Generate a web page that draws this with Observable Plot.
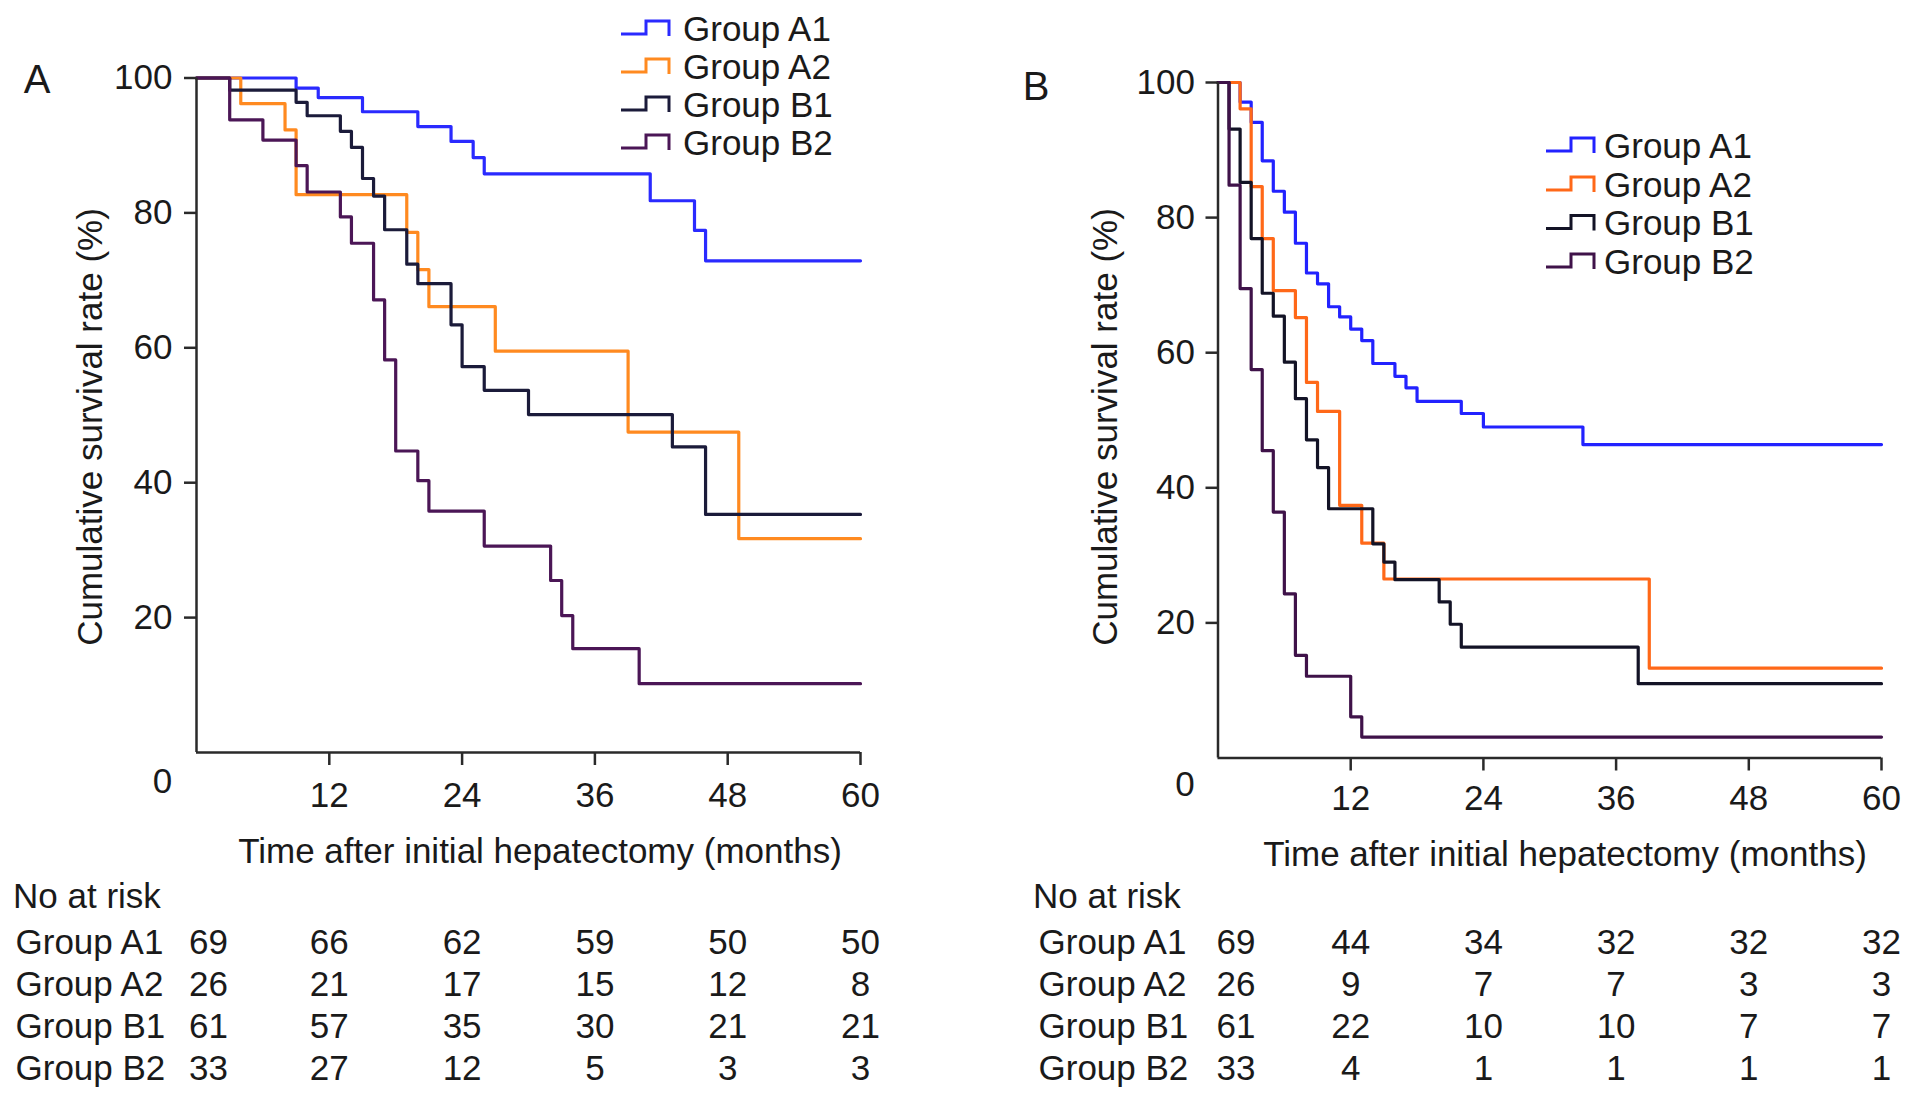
<!DOCTYPE html>
<html>
<head>
<meta charset="utf-8">
<script src="https://cdn.jsdelivr.net/npm/d3@7"></script>
<script src="https://cdn.jsdelivr.net/npm/@observablehq/plot@0.6"></script>
<style>
html,body{margin:0;padding:0;background:#fff;}
#root{position:relative;width:1913px;height:1102px;overflow:hidden;background:#fff;
  font-family:"Liberation Sans",Arial,Helvetica,sans-serif;color:#1a1a1a;}
#root > svg{position:absolute;overflow:visible;}
</style>
</head>
<body>
<div id="root"></div>
<script>
// ---------- data ----------
const groups = ["Group A1", "Group A2", "Group B1", "Group B2"];
const xTicks = [12, 24, 36, 48, 60];
const yTicks = [20, 40, 60, 80, 100];
const riskTimes = [0, 12, 24, 36, 48, 60];

// Panel A: [month, survival %]
const leftA1 = [[0,100],[9,98.5],[11,97.1],[15,95],[20,92.8],[23,90.6],[25,88.2],[26,85.8],[41,81.8],[45,77.4],[46,72.9],[60,72.9]];
const leftA2 = [[0,100],[4,96.2],[8,92.3],[9,82.7],[19,77.1],[20,71.6],[21,66.1],[27,59.5],[39,47.5],[49,31.7],[60,31.7]];
const leftB1 = [[0,100],[3,98.2],[9,96.4],[10,94.4],[13,92.1],[14,89.7],[15,85.1],[16,82.5],[17,77.5],[19,72.4],[20,69.5],[23,63.4],[24,57.2],[26,53.7],[30,50.1],[43,45.3],[46,35.3],[60,35.3]];
const leftB2 = [[0,100],[3,93.8],[6,90.8],[9,87],[10,83.1],[13,79.4],[14,75.5],[16,67.1],[17,58.2],[18,44.7],[20,40.3],[21,35.8],[26,30.6],[32,25.5],[33,20.3],[34,15.4],[40,10.2],[60,10.2]];

// Panel B
const rightA1 = [[0,100],[2,97.1],[3,94.1],[4,88.4],[5,83.9],[6,80.8],[7,76.2],[8,71.8],[9,70.2],[10,66.8],[11,65.3],[12,63.5],[13,61.8],[14,58.4],[16,56.5],[17,54.8],[18,52.8],[22,51],[24,49],[33,46.4],[60,46.4]];
const rightA2 = [[0,100],[2,96.1],[3,84.6],[4,76.9],[5,69.2],[7,65.2],[8,55.6],[9,51.3],[11,37.4],[13,31.8],[15,26.5],[39,13.3],[60,13.3]];
const rightB1 = [[0,100],[1,93.1],[2,85.2],[3,76.9],[4,68.8],[5,65.4],[6,58.6],[7,53.2],[8,47.1],[9,43],[10,36.9],[14,31.7],[15,29],[16,26.4],[20,23.1],[21,19.8],[22,16.4],[38,11],[60,11]];
const rightB2 = [[0,100],[1,84.8],[2,69.5],[3,57.5],[4,45.5],[5,36.4],[6,24.3],[7,15.2],[8,12.1],[12,6.1],[13,3.1],[60,3.1]];

// Numbers at risk
const riskLeftA1 = [69, 66, 62, 59, 50, 50];
const riskLeftA2 = [26, 21, 17, 15, 12, 8];
const riskLeftB1 = [61, 57, 35, 30, 21, 21];
const riskLeftB2 = [33, 27, 12, 5, 3, 3];
const riskRightA1 = [69, 44, 34, 32, 32, 32];
const riskRightA2 = [26, 9, 7, 7, 3, 3];
const riskRightB1 = [61, 22, 10, 10, 7, 7];
const riskRightB2 = [33, 4, 1, 1, 1, 1];

const colorsLeft = ["#2a2aff", "#ff8a20", "#1b1b3a", "#4b1656"];
const colorsRight = ["#2222ff", "#ff6818", "#131326", "#3f1249"];

const FONT = "Liberation Sans, Arial, Helvetica, sans-serif";
const root = document.getElementById("root");

function curvePlot(curves, colors, cfg) {
  const rows = [];
  curves.forEach((c, i) => c.forEach(([t, s]) => rows.push({group: groups[i], t, s})));
  const svg = Plot.plot({
    width: cfg.width, height: cfg.height,
    marginLeft: cfg.ml, marginRight: cfg.mr, marginTop: cfg.mt, marginBottom: cfg.mb,
    x: {domain: [0, 60]},
    y: {domain: [0, 100]},
    color: {domain: groups, range: colors},
    style: {fontFamily: FONT, fontSize: "35px", color: "#1a1a1a", background: "transparent", overflow: "visible"},
    marks: [
      Plot.lineY(rows, {x: "t", y: "s", z: "group", stroke: "group", curve: "step-after", strokeWidth: 3.2}),
      Plot.ruleX([0], {stroke: "#2a2a2a", strokeWidth: 2.5}),
      Plot.ruleY([0], {stroke: "#2a2a2a", strokeWidth: 2.5}),
      Plot.axisY({ticks: yTicks, tickSize: 12, tickPadding: cfg.yPad, label: null, strokeWidth: 2.5, stroke: "#2a2a2a"}),
      Plot.axisX({ticks: xTicks, tickSize: 13, tickPadding: cfg.xPad, label: null, strokeWidth: 2.5, stroke: "#2a2a2a"}),
      Plot.text([{t: 0, s: 0, label: "0"}], {x: "t", y: "s", text: "label", dx: cfg.zeroDx, dy: cfg.zeroDy})
    ]
  });
  svg.style.left = cfg.left + "px";
  svg.style.top = cfg.top + "px";
  root.appendChild(svg);
}

function riskPlot(risk, cfg) {
  const rows = [];
  risk.forEach((r, i) => r.forEach((n, j) => rows.push({group: groups[i], t: riskTimes[j], n})));
  const svg = Plot.plot({
    width: cfg.width, height: cfg.height,
    marginLeft: cfg.ml, marginRight: cfg.mr, marginTop: 0, marginBottom: 0,
    x: {domain: [0, 60], axis: null},
    y: {type: "point", domain: groups, range: cfg.yRange, padding: 0, axis: null},
    style: {fontFamily: FONT, fontSize: "35px", color: "#1a1a1a", background: "transparent", overflow: "visible"},
    marks: [
      Plot.text(rows.filter(d => d.t === 0), {x: "t", y: "group", text: "n", dx: cfg.firstDx}),
      Plot.text(rows.filter(d => d.t > 0), {x: "t", y: "group", text: "n"}),
      Plot.text(groups, {x: () => 0, y: d => d, text: d => d, textAnchor: "start", dx: cfg.labelDx})
    ]
  });
  svg.style.left = cfg.left + "px";
  svg.style.top = cfg.top + "px";
  root.appendChild(svg);
}

curvePlot([leftA1, leftA2, leftB1, leftB2], colorsLeft,
  {left: 0, top: 0, width: 900, height: 800, ml: 196, mr: 40, mt: 77.5, mb: 48, yPad: 12, xPad: 17, zeroDx: -34, zeroDy: 29});
curvePlot([rightA1, rightA2, rightB1, rightB2], colorsRight,
  {left: 1000, top: 0, width: 913, height: 800, ml: 217.5, mr: 32, mt: 82, mb: 42.5, yPad: 11, xPad: 14, zeroDx: -33, zeroDy: 27});

riskPlot([riskLeftA1, riskLeftA2, riskLeftB1, riskLeftB2],
  {left: 0, top: 860, width: 900, height: 242, ml: 196, mr: 40, yRange: [81.5, 208.5], firstDx: 12, labelDx: -181});
riskPlot([riskRightA1, riskRightA2, riskRightB1, riskRightB2],
  {left: 1000, top: 860, width: 913, height: 242, ml: 217.5, mr: 32, yRange: [81.5, 208.5], firstDx: 18, labelDx: -179.5});

// ---------- overlay text: panel letters, axis titles, legends ----------
const ov = d3.select(root).append("svg")
  .attr("width", 1913).attr("height", 1102)
  .style("left", "0px").style("top", "0px")
  .attr("font-family", FONT).attr("fill", "#1a1a1a");

function label(x, y, txt, size, anchor, rotate) {
  const t = ov.append("text").attr("x", x).attr("y", y)
    .attr("font-size", size).attr("text-anchor", anchor || "middle")
    .attr("dominant-baseline", "central").text(txt);
  if (rotate) t.attr("transform", `rotate(${rotate},${x},${y})`);
}

label(37, 78.5, "A", 40);
label(1036, 86, "B", 40);
label(89, 427, "Cumulative survival rate (%)", 35, "middle", -90);
label(1104, 427, "Cumulative survival rate (%)", 35, "middle", -90);
label(540, 850, "Time after initial hepatectomy (months)", 35);
label(1565, 853, "Time after initial hepatectomy (months)", 35);
label(13, 895, "No at risk", 35, "start");
label(1033, 895, "No at risk", 35, "start");

function legend(x0, tx, rowsY, colors) {
  groups.forEach((g, i) => {
    const y = rowsY[i];
    ov.append("path")
      .attr("d", `M${x0},${y + 6}H${x0 + 25}V${y - 7}H${x0 + 48}V${y + 8}`)
      .attr("fill", "none").attr("stroke", colors[i]).attr("stroke-width", 3);
    label(tx, y, g, 35, "start");
  });
}
legend(621, 683, [28, 66, 104, 142], colorsLeft);
legend(1546, 1604, [145, 184, 222.5, 261], colorsRight);
</script>
</body>
</html>
